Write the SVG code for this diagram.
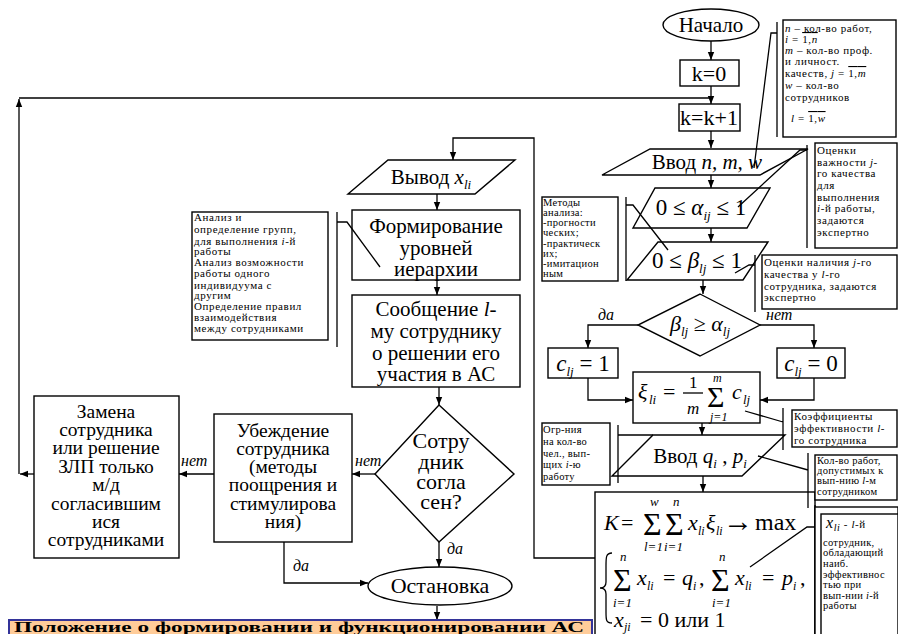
<svg xmlns="http://www.w3.org/2000/svg" width="898" height="634" viewBox="0 0 898 634">
<style>
.b{fill:#fff;stroke:#000;stroke-width:1.4}
.l{fill:none;stroke:#000;stroke-width:1.3}
.a{marker-end:url(#ah)}
text{font-family:Liberation Serif,Times New Roman,serif;fill:#000}
.t{font-size:21px;text-anchor:middle}
.w{font-size:19.5px;text-anchor:middle}
.m{font-size:22px}
.s{font-size:11px;letter-spacing:0.6px}
.n{font-size:10.5px;letter-spacing:0.3px}
.i{font-style:italic}
.y{font-style:italic;font-size:16px}
.sub{font-size:13px;font-style:italic}
</style>
<defs>
<marker id="ah" viewBox="0 0 10 10" refX="10" refY="5" markerWidth="8" markerHeight="8" orient="auto" markerUnits="userSpaceOnUse"><path d="M0,1 L10,5 L0,9 z" fill="#000"/></marker>
</defs>
<rect width="898" height="634" fill="#fff"/>

<g id="connectors">
<path class="l a" d="M711,41 V60"/>
<path class="l a" d="M711,86 V104"/>
<path class="l a" d="M34,474 H20"/>
<path class="l a" d="M19,474 V99"/>
<path class="l" d="M19,98 H711"/>
<path class="l a" d="M711,131 V148"/>
<path class="l a" d="M711,175 V188"/>
<path class="l a" d="M711,228 V242"/>
<path class="l a" d="M703,280 V294"/>
<path class="l a" d="M638,325 H588 V348"/>
<path class="l a" d="M760,325 H814 V348"/>
<path class="l a" d="M588,378 V400 H633"/>
<path class="l a" d="M814,378 V400 H760"/>
<path class="l a" d="M702,423 V435"/>
<path class="l a" d="M703,476 V492"/>
<path class="l a" d="M595,558 H534 V138 H453 V160"/>
<path class="l a" d="M437,194 V210"/>
<path class="l a" d="M437,280 V295"/>
<path class="l a" d="M439,387 V405"/>
<path class="l a" d="M375,474 H352"/>
<path class="l a" d="M214,474 H179"/>
<path class="l a" d="M284,542 V583 H368"/>
<path class="l a" d="M439,542 V567"/>
<path class="l a" d="M437,606 V620"/>
<text class="y" x="598" y="320">да</text>
<text class="y" x="766" y="320">нет</text>
<text class="y" x="355" y="466">нет</text>
<text class="y" x="181" y="466">нет</text>
<text class="y" x="293" y="571">да</text>
<text class="y" x="447" y="554">да</text>
</g>

<g id="start">
<ellipse class="b" cx="711" cy="25" rx="48" ry="16"/>
<text class="t" x="711" y="32">Начало</text>
</g>
<g id="k0">
<rect class="b" x="680" y="60" width="59" height="26"/>
<text class="t" x="709" y="81" style="font-size:22px">k=0</text>
</g>
<g id="kinc">
<rect class="b" x="679" y="104" width="61" height="27"/>
<text class="t" x="709" y="125" style="font-size:22px">k=k+1</text>
</g>
<g id="input-nmw">
<polygon class="b" points="650,149 808,149 760,175 602,175"/>
<text class="t" x="707" y="169">Ввод <tspan class="i">n, m, w</tspan></text>
</g>
<g id="alpha">
<polygon class="b" points="655,188 770,188 747,228 633,228"/>
<text class="t" x="701" y="215" style="font-size:23px">0 ≤ <tspan class="i">α</tspan><tspan class="sub" dy="5">ij</tspan><tspan dy="-5"> ≤ 1</tspan></text>
</g>
<g id="beta">
<polygon class="b" points="658,242 768,242 743,280 627,280"/>
<text class="t" x="697" y="268" style="font-size:23px">0 ≤ <tspan class="i">β</tspan><tspan class="sub" dy="5">lj</tspan><tspan dy="-5"> ≤ 1</tspan></text>
</g>
<g id="compare">
<polygon class="b" points="700,294 760,325 700,356 638,325"/>
<text class="t" x="700" y="331" style="font-size:22px"><tspan class="i">β</tspan><tspan class="sub" dy="5">lj</tspan><tspan dy="-5"> ≥ </tspan><tspan class="i">α</tspan><tspan class="sub" dy="5">lj</tspan></text>
</g>
<g id="c1">
<rect class="b" x="548" y="348" width="70" height="30"/>
<text class="t" x="583" y="371" style="font-size:23px"><tspan class="i">c</tspan><tspan class="sub" dy="5">lj</tspan><tspan dy="-5"> = 1</tspan></text>
</g>
<g id="c0">
<rect class="b" x="777" y="348" width="68" height="30"/>
<text class="t" x="811" y="371" style="font-size:23px"><tspan class="i">c</tspan><tspan class="sub" dy="5">lj</tspan><tspan dy="-5"> = 0</tspan></text>
</g>
<g id="xi">
<rect class="b" x="633" y="372" width="127" height="51"/>
<text class="m i" x="638" y="399">ξ</text>
<text class="m i" x="649" y="404" style="font-size:13px">li</text>
<text class="m" x="663" y="399">=</text>
<text class="m" x="689" y="388" style="font-size:17px">1</text>
<path class="l" d="M683,393 H703"/>
<text class="m i" x="687" y="414" style="font-size:17px">m</text>
<text class="m" x="707" y="407" style="font-size:30px">Σ</text>
<text class="m i" x="713" y="382" style="font-size:12px">m</text>
<text class="m i" x="710" y="421" style="font-size:12px">j=1</text>
<text class="m i" x="732" y="399">c</text>
<text class="m i" x="743" y="404" style="font-size:13px">lj</text>
</g>
<g id="input-qp">
<polygon class="b" points="653,435 785,435 742,476 612,476"/>
<text class="t" x="700" y="463">Ввод <tspan class="i">q</tspan><tspan class="sub" dy="5">i</tspan><tspan dy="-5"> , </tspan><tspan class="i">p</tspan><tspan class="sub" dy="5">i</tspan></text>
</g>
<g id="kmax">
<rect class="b" x="595" y="492" width="220" height="150"/>
<text class="m i" x="604" y="530">K</text>
<text class="m" x="621" y="530">=</text>
<text class="m" x="643" y="535" style="font-size:32px">Σ</text>
<text class="m" x="665" y="535" style="font-size:32px">Σ</text>
<text class="m i" x="650" y="506" style="font-size:13px">w</text>
<text class="m i" x="673" y="506" style="font-size:13px">n</text>
<text class="m i" x="644" y="551" style="font-size:13px">l=1</text>
<text class="m i" x="664" y="551" style="font-size:13px">i=1</text>
<text class="m i" x="688" y="530">x</text>
<text class="m i" x="698" y="535" style="font-size:12px">li</text>
<text class="m i" x="706" y="530">ξ</text>
<text class="m i" x="716" y="535" style="font-size:12px">li</text>
<text class="m" x="723" y="531" style="font-size:30px">→</text>
<text class="m" x="755" y="530" style="font-size:24px">max</text>
<path class="l" d="M612,553 C606,553 606,557 606,566 L606,582 C606,586 604,588 600,588 C604,588 606,590 606,594 L606,612 C606,620 606,623 612,623"/>
<text class="m i" x="620" y="561" style="font-size:13px">n</text>
<text class="m" x="613" y="591" style="font-size:32px">Σ</text>
<text class="m i" x="613" y="607" style="font-size:13px">i=1</text>
<text class="m i" x="637" y="585">x</text>
<text class="m i" x="647" y="590" style="font-size:12px">li</text>
<text class="m" x="663" y="585">=</text>
<text class="m i" x="682" y="585">q</text>
<text class="m i" x="693" y="590" style="font-size:12px">i</text>
<text class="m" x="699" y="585">,</text>
<text class="m i" x="719" y="561" style="font-size:13px">n</text>
<text class="m" x="711" y="591" style="font-size:32px">Σ</text>
<text class="m i" x="712" y="607" style="font-size:13px">i=1</text>
<text class="m i" x="735" y="585">x</text>
<text class="m i" x="745" y="590" style="font-size:12px">li</text>
<text class="m" x="762" y="585">=</text>
<text class="m i" x="782" y="585">p</text>
<text class="m i" x="793" y="590" style="font-size:12px">i</text>
<text class="m" x="800" y="585">,</text>
<text class="m i" x="614" y="627">x</text>
<text class="m i" x="624" y="631" style="font-size:12px">ji</text>
<text class="m" x="640" y="627">= 0 или 1</text>
</g>

<g id="output-x">
<polygon class="b" points="388,160 515,160 475,194 348,194"/>
<text class="t" x="431" y="184">Вывод <tspan class="i">x</tspan><tspan class="sub" dy="5">li</tspan></text>
</g>
<g id="hierarchy">
<rect class="b" x="352" y="210" width="168" height="70"/>
<text class="t" x="436" y="233">Формирование</text>
<text class="t" x="436" y="255">уровней</text>
<text class="t" x="436" y="276">иерархии</text>
</g>
<g id="message">
<rect class="b" x="352" y="295" width="168" height="92"/>
<text class="t" x="436" y="316">Сообщение <tspan class="i">l</tspan>-</text>
<text class="t" x="436" y="338">му сотруднику</text>
<text class="t" x="436" y="360">о решении его</text>
<text class="t" x="436" y="381">участия в АС</text>
</g>
<g id="agree">
<polygon class="b" points="439,405 514,474 439,542 375,474"/>
<text class="t" x="441" y="448" style="font-size:22px">Сотру</text>
<text class="t" x="441" y="469" style="font-size:22px">дник</text>
<text class="t" x="441" y="489" style="font-size:22px">согла</text>
<text class="t" x="441" y="509" style="font-size:22px">сен?</text>
</g>
<g id="persuade">
<rect class="b" x="214" y="414" width="138" height="128"/>
<text class="w" x="283" y="437">Убеждение</text>
<text class="w" x="283" y="455">сотрудника</text>
<text class="w" x="283" y="473">(методы</text>
<text class="w" x="283" y="491">поощрения и</text>
<text class="w" x="283" y="510">стимулирова</text>
<text class="w" x="283" y="528">ния)</text>
</g>
<g id="replace">
<rect class="b" x="34" y="396" width="145" height="162"/>
<text class="w" x="106" y="418">Замена</text>
<text class="w" x="106" y="436">сотрудника</text>
<text class="w" x="106" y="454">или решение</text>
<text class="w" x="106" y="473">ЗЛП только</text>
<text class="w" x="106" y="491">м/д</text>
<text class="w" x="106" y="510">согласившим</text>
<text class="w" x="106" y="528">ися</text>
<text class="w" x="106" y="546">сотрудниками</text>
</g>
<g id="stop">
<ellipse class="b" cx="440" cy="586" rx="72" ry="19"/>
<text class="t" x="440" y="593" style="font-size:22px">Остановка</text>
</g>
<g id="banner">
<rect x="9" y="620" width="583" height="30" fill="#FFCC99" stroke="#333399" stroke-width="2"/>
<text x="14" y="632" style="font-weight:bold;font-size:15px" textLength="570" lengthAdjust="spacingAndGlyphs">Положение о формировании и функционировании АС</text>
</g>

<g id="note-n">
<path class="l" d="M777,22 V137 M777,33 H771 L754,168"/>
<rect class="b" x="783" y="20" width="113" height="117"/>
<text class="s" x="785" y="32"><tspan class="i">n</tspan> – кол-во работ,</text>
<text class="s" x="785" y="43"><tspan class="i">i</tspan> = <tspan text-decoration="overline">1,<tspan class="i">n</tspan></tspan></text>
<text class="s" x="785" y="54"><tspan class="i">m</tspan> – кол-во проф.</text>
<text class="s" x="785" y="65">и личност.</text>
<text class="s" x="785" y="77">качеств,   <tspan class="i">j</tspan> = <tspan text-decoration="overline">1,<tspan class="i">m</tspan></tspan></text>
<text class="s" x="785" y="89"><tspan class="i">w</tspan> – кол-во</text>
<text class="s" x="785" y="101">сотрудников</text>
<text class="s" x="791" y="122"><tspan class="i">l</tspan> = <tspan text-decoration="overline">1,<tspan class="i">w</tspan></tspan></text>
</g>
<g id="note-alpha">
<path class="l" d="M807,145 V248 M807,150 H800 L738,207"/>
<rect class="b" x="815" y="143" width="82" height="105"/>
<text class="s" x="817" y="154">Оценки</text>
<text class="s" x="817" y="166">важности <tspan class="i">j</tspan>-</text>
<text class="s" x="817" y="177">го качества</text>
<text class="s" x="817" y="189">для</text>
<text class="s" x="817" y="201">выполнения</text>
<text class="s" x="817" y="212"><tspan class="i">i</tspan>-й работы,</text>
<text class="s" x="817" y="224">задаются</text>
<text class="s" x="817" y="236">экспертно</text>
</g>
<g id="note-methods">
<path class="l" d="M626,197 V281 M626,205 H633 L668,250"/>
<rect class="b" x="542" y="197" width="76" height="84"/>
<text class="n" x="543" y="206">Методы</text>
<text class="n" x="543" y="216">анализа:</text>
<text class="n" x="543" y="226">-прогности</text>
<text class="n" x="543" y="236">ческих;</text>
<text class="n" x="543" y="247">-практическ</text>
<text class="n" x="543" y="257">их;</text>
<text class="n" x="543" y="267">-имитацион</text>
<text class="n" x="543" y="277">ным</text>
</g>
<g id="note-beta">
<path class="l" d="M755,255 V312 M755,265 H749 L735,273"/>
<rect class="b" x="762" y="255" width="135" height="54"/>
<text class="s" x="764" y="266">Оценки наличия <tspan class="i">j</tspan>-го</text>
<text class="s" x="764" y="278">качества у <tspan class="i">l</tspan>-го</text>
<text class="s" x="764" y="290">сотрудника, задаются</text>
<text class="s" x="764" y="301">экспертно</text>
</g>
<g id="note-eff">
<path class="l" d="M783,408 V450 M783,422 L745,411"/>
<rect class="b" x="792" y="410" width="105" height="37"/>
<text class="s" x="794" y="420">Коэффициенты</text>
<text class="s" x="794" y="432">эффективности <tspan class="i">l</tspan>-</text>
<text class="s" x="794" y="444">го сотрудника</text>
</g>
<g id="note-limit">
<path class="l" d="M618,425 V483 M618,435 H653"/>
<rect class="b" x="542" y="423" width="68" height="62"/>
<text class="n" x="543" y="433">Огр-ния</text>
<text class="n" x="543" y="445">на кол-во</text>
<text class="n" x="543" y="457">чел., вып-</text>
<text class="n" x="543" y="468">щих <tspan class="i">i</tspan>-ю</text>
<text class="n" x="543" y="480">работу</text>
</g>
<g id="note-works">
<path class="l" d="M808,453 V508 M808,470 L758,456"/>
<rect class="b" x="815" y="455" width="82" height="45"/>
<text class="n" x="817" y="464">Кол-во работ,</text>
<text class="n" x="817" y="474">допустимых к</text>
<text class="n" x="817" y="484">вып-нию <tspan class="i">l</tspan>-м</text>
<text class="n" x="817" y="495">сотрудником</text>
</g>
<g id="note-x">
<path class="l" d="M815,505 V634 M815,527 H807 L750,567"/>
<rect class="b" x="815" y="507" width="83" height="130"/>
<rect class="b" x="821" y="514" width="77" height="125"/>
<text class="s" x="826" y="528"><tspan class="i" style="font-size:16px">x</tspan><tspan class="i" style="font-size:10px" dy="3">li</tspan><tspan dy="-3"> - </tspan><tspan class="i">l</tspan>-й</text>
<text class="n" x="823" y="546">сотрудник,</text>
<text class="n" x="823" y="556">обладающий</text>
<text class="n" x="823" y="567">наиб.</text>
<text class="n" x="823" y="578">эффективнос</text>
<text class="n" x="823" y="588">тью при</text>
<text class="n" x="823" y="599">вып-нии <tspan class="i">i</tspan>-й</text>
<text class="n" x="823" y="609">работы</text>
</g>
<g id="note-analysis">
<path class="l" d="M337,212 V347 M337,222 H347 L380,267"/>
<rect class="b" x="192" y="212" width="136" height="128"/>
<text class="s" x="194" y="221">Анализ и</text>
<text class="s" x="194" y="233">определение групп,</text>
<text class="s" x="194" y="245">для выполнения <tspan class="i">i</tspan>-й</text>
<text class="s" x="194" y="255">работы</text>
<text class="s" x="194" y="266">Анализ возможности</text>
<text class="s" x="194" y="277">работы одного</text>
<text class="s" x="194" y="289">индивидуума с</text>
<text class="s" x="194" y="299">другим</text>
<text class="s" x="194" y="310">Определение правил</text>
<text class="s" x="194" y="321">взаимодействия</text>
<text class="s" x="194" y="332">между сотрудниками</text>
</g>
</svg>
